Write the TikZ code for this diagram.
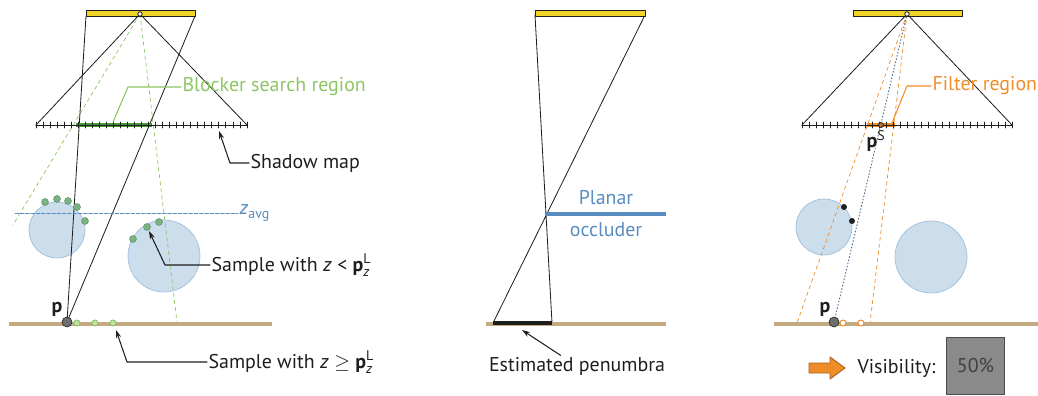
\documentclass[tikz,border=0pt]{standalone}
\usepackage{amsmath}
\usepackage{fontspec}
\setmainfont{PT Sans}
\usetikzlibrary{arrows.meta,calc,positioning}
\definecolor{fg}{RGB}{30,30,30}
\definecolor{licht}{RGB}{240,212,40}
\definecolor{bodenfarbe}{RGB}{196,170,128}
\definecolor{occ}{RGB}{204,221,236}
\definecolor{occrand}{RGB}{160,192,222}
\definecolor{blau}{RGB}{88,140,190}
\definecolor{gruen}{RGB}{140,198,98}
\definecolor{gruendk}{RGB}{70,150,50}
\definecolor{probefarbe}{RGB}{122,180,130}
\definecolor{orng}{RGB}{240,140,40}
\definecolor{grau}{RGB}{138,138,138}
\tikzset{
  every picture/.style={fg, line width=0.7pt, line cap=round, line join=round,
    >={Stealth[length=7pt,width=4.5pt]}},
  every node/.style={font=\fontsize{17}{20}\selectfont, inner sep=1pt},
  % Linien
  lichtq/.style={fill=licht, draw=fg, line width=0.6pt},
  smap/.style={line width=0.7pt},
  boden/.style={bodenfarbe, line width=3.5pt, line cap=butt},
  region/.style={#1, line width=3.5pt, line cap=butt},
  lbl/.style={line width=0.9pt},
  % Kreise
  kugel/.style={fill=occ, draw=occrand, line width=0.6pt},
  probe/.style={fill=probefarbe, draw=probefarbe!75!black, line width=0.4pt},
  bprobe/.style={fill=gruen!55!white, draw=gruen, line width=0.8pt},
  fprobe/.style={fill=white, draw=orng, line width=0.8pt},
  punkt/.style={fill=grau!80!black, draw=fg, line width=0.5pt},
}
\newcommand{\pzL}{\textbf{p}$^{\text{L}}_{\text{\itshape z}}$}
\begin{document}
\begin{tikzpicture}[x=0.3mm, y=-0.3mm]
  \useasboundingbox (0,0) rectangle (1038,396);
  % ===== links: Blocker-Suche
  \coordinate (lq1) at (140,14);
  \coordinate (smL1) at (36,125);
  \coordinate (smR1) at (247,125);
  \coordinate (p1) at (67,322);
  \draw[kugel] (57,230) circle[radius=28];
  \draw[kugel] (164,256) circle[radius=36];
  \draw[gruen, dashed, line width=0.6pt] (lq1) -- (13,225) (lq1) -- (177,322);
  \draw (smL1) -- (lq1) -- (smR1);
  \draw (86,16) -- (p1) (195,16) -- (p1);
  \draw[lichtq] (86,10) rectangle (195,16);
  \draw[fill=white] (lq1) circle[radius=2.2];
  \draw[region=gruendk] (76,125) -- (152,125);
  \draw[smap] (smL1) -- (smR1);
  \foreach \i in {0,...,30}
    \draw[smap] ($(smL1)!\i/30!(smR1)$) ++(0,-3) -- ++(0,6);
  % z_avg
  \node[blau, anchor=west] (zavg) at (238,213) {\textit{z}\textsubscript{avg}};
  \draw[blau, dash pattern=on 3pt off 1.5pt, line width=0.8pt] (15,213) -- (zavg.west);
  % Proben
  \foreach \x/\y in {45/202,57/199,68/201,77/207,85/221,133/239,147/227,159/222}
    \draw[probe] (\x,\y) circle[radius=3.5];
  \draw[boden] (9,324) -- (272,324);
  \foreach \x in {77,95,113}
    \draw[bprobe] (\x,323) circle[radius=3];
  \draw[punkt] (p1) circle[radius=5];
  \node[font=\fontsize{17}{20}\selectfont\bfseries] (pl1) at (57,309) {p};
  % Beschriftungen
  \node[gruen, anchor=west] (bsr) at (181,87) {Blocker search region};
  \coordinate (bsrEnd) at (113,122);
  \draw[gruen, lbl] (bsr.west) -- (128,87) -- (bsrEnd);
  \node[anchor=west] (smlbl) at (249,163) {Shadow map};
  \coordinate (smTip) at (219,131);
  \draw[lbl, ->] (smlbl.west) -- (230,163) -- (smTip);
  \node[anchor=west] (lblA) at (210,265) {Sample with \textit{z} < \pzL};
  \coordinate (tipA) at (149,231);
  \draw[lbl, ->] (lblA.west) -- (165,265) -- (tipA);
  \node[anchor=west] (lblB) at (207,362) {Sample with \textit{z} $\geq$ \pzL};
  \coordinate (tipB) at (116,330);
  \draw[lbl, ->] (lblB.west) -- (127,362) -- (tipB);
  % ===== Mitte: Penumbra-Schaetzung
  \coordinate (pa) at (493,323);
  \coordinate (pb) at (552,323);
  \draw (535,15) -- (pb) (645,15) -- (pa);
  \draw[lichtq] (535,10) rectangle (645,16);
  \draw[blau, line width=2.6pt, line cap=butt] (545,214) -- (666,214);
  \node[blau] (planar) at (606,198) {Planar};
  \node[blau] (occl) at (606,230) {occluder};
  \draw[boden] (486,324) -- (666,324);
  \draw[region=fg] (pa) -- (pb);
  \node (estp) at (577,366) {Estimated penumbra};
  \coordinate (penTip) at (522,330);
  \draw[lbl, ->] ([xshift=-14pt]estp.north) -- (penTip);
  % ===== rechts: Filterung
  \coordinate (lq3) at (907,14);
  \coordinate (smL3) at (802,125);
  \coordinate (smR3) at (1012,125);
  \coordinate (p3) at (834,322);
  \coordinate (ps) at (881,125);
  \draw[kugel] (824,227) circle[radius=28];
  \draw[kugel] (931,257) circle[radius=36];
  \draw[orng, dashed, line width=0.6pt] (lq3) -- (797,323) (lq3) -- (870,323);
  \draw[blau!70!fg, dotted, line width=0.8pt] (lq3) -- (p3);
  \draw (smL3) -- (lq3) -- (smR3);
  \draw[lichtq] (853,10) rectangle (962,16);
  \draw[fill=white] (lq3) circle[radius=2.2];
  \draw[region=orng] (867,125) -- (895,125);
  \draw[smap] (smL3) -- (smR3);
  \foreach \i in {0,...,30}
    \draw[smap] ($(smL3)!\i/30!(smR3)$) ++(0,-3) -- ++(0,6);
  \draw[fill=orng!80!black] (ps) circle[radius=2.5];
  \node (pslbl) at (876,141) {\textbf{p}\textsuperscript{S}};
  \node[orng, anchor=west] (flt) at (931,86) {Filter region};
  \coordinate (fltEnd) at (892,123);
  \draw[orng, lbl] (flt.west) -- (907,86) -- (fltEnd);
  \fill (844,207) circle[radius=3];
  \fill (852,221) circle[radius=3];
  \draw[boden] (774,324) -- (1038,324);
  \foreach \x in {843,861}
    \draw[fprobe] (\x,323) circle[radius=3];
  \draw[punkt] (p3) circle[radius=5];
  \node[font=\fontsize{17}{20}\selectfont\bfseries] (pl3) at (825,309) {p};
  % Ergebnis
  \draw[fill=orng, draw=orng!70!black, line width=0.8pt]
    (809,363) -- (830,363) -- (830,357) -- (845,368) -- (830,379) -- (830,373) -- (809,373) -- cycle;
  \node[anchor=west] (vis) at (856,368) {Visibility:};
  \node[fill=grau, draw=fg!80, line width=0.6pt, minimum width=50pt, minimum height=49pt,
    text=fg!85] (val) at (975.5,366) {50\%};
\end{tikzpicture}
\end{document}
